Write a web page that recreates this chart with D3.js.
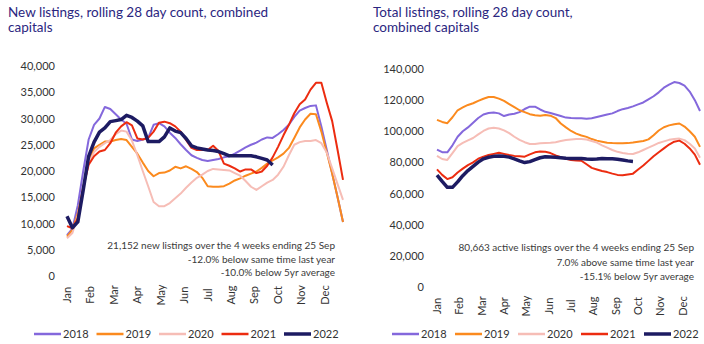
<!DOCTYPE html>
<html>
<head>
<meta charset="utf-8">
<script src="https://cdn.jsdelivr.net/npm/d3@7"></script>
<style>
  body { margin: 0; background: #fff; }
  svg { display: block; font-family: Lato, "Open Sans", sans-serif; }
</style>
</head>
<body>
<div id="chart"></div>
<script>
// month tick labels and series years
const months = ["Jan","Feb","Mar","Apr","May","Jun","Jul","Aug","Sep","Oct","Nov","Dec"];
const years = ["2018","2019","2020","2021","2022"];
const colors = ["#8468dc", "#fb8a1e", "#f6bdb6", "#ec2c10", "#1d1b62"];

// weekly rolling 28 day counts, new listings (week 0 = start of Jan)
const new2018 = [7800,9000,13500,20000,26000,28800,30000,32200,31800,30800,29800,29000,26000,25700,26000,26300,28800,29100,28500,27300,26300,25100,24000,23000,22500,22100,21900,22100,22300,22600,22800,23300,23900,24500,25000,25400,26000,26400,26300,27000,27800,28800,30300,31500,32000,32400,32500,28500,24000,19500,15000,10300];
const new2019 = [7500,8800,12000,16500,22000,24300,25000,25600,25600,25900,26100,25900,24600,23300,21600,20000,19000,19600,19700,20100,20800,20500,20900,20400,19800,18700,17100,17000,17000,17100,17600,18200,18600,19100,19500,19900,20600,21400,22000,22600,23300,24400,26300,28300,29800,30900,30800,27500,23500,19500,15000,10300];
const new2020 = [7200,8200,11500,16500,21500,23600,24600,25300,25900,27000,27700,27500,25800,23000,20000,17100,14100,13300,13300,13900,14800,15700,16800,17800,18700,19300,20000,20400,20300,20200,20100,19600,19100,18100,17000,16400,17100,17800,18300,19300,20800,23000,25000,25500,25700,25700,25900,25300,23500,20500,17500,14500];
const new2021 = [9500,9100,11000,17000,21200,22800,23700,24000,25300,27300,28500,29300,28700,26200,26000,26300,27500,29200,29400,29100,28500,27500,25900,24400,24000,24000,24000,24800,23800,21400,21000,20500,19900,20300,20300,19600,19900,21000,22600,24600,26800,28800,31000,32700,33600,35500,36800,36800,33000,29500,24000,18300];
const new2022 = [11400,9200,10300,16400,22800,25500,27400,28200,29400,29600,29800,30600,30200,29500,28600,25600,25600,25600,26500,28200,27600,27300,26200,24800,24400,24200,24000,23900,23700,23300,22900,22900,22900,22900,22900,22700,22400,22100,21152];

// weekly rolling 28 day counts, total listings
const total2018 = [88200,86600,86500,91000,96500,100000,102500,105500,108500,110800,111700,112000,111500,109800,110800,111300,112300,114300,115800,115800,114000,112500,111700,110800,109800,108800,108500,108400,108300,108000,108400,109200,110000,110800,111500,113000,114200,115000,116000,117300,118500,120500,122500,125000,128000,130000,131600,131000,129300,125500,120000,113000];
const total2019 = [107300,106000,105200,109000,113500,115300,116900,118000,119500,120900,122000,122000,121000,119500,117500,115500,113500,112300,111000,110300,110000,110500,110000,108500,105000,102500,100200,98500,97300,96400,95000,94000,93300,92600,92400,92300,92300,92400,92800,93300,93800,94800,97500,100500,102600,103800,104500,105000,103000,100000,96500,90000];
const total2020 = [84200,82200,81600,86000,90500,92500,94200,95700,98000,100200,101800,102300,101800,100600,98800,96500,94500,93000,91800,91800,92300,92500,92700,93000,93800,94400,94800,95000,95000,94700,93800,92700,91000,89500,88000,86800,86000,85600,85400,86500,88000,89500,91000,92500,93500,94500,95000,95300,94300,92000,89000,83000];
const total2021 = [75500,72000,69300,70500,73500,76000,78300,80000,82400,83700,84800,85500,86200,85500,84800,84200,84000,83700,85200,86500,87000,86800,86000,84500,83300,82300,81600,81300,81100,78800,76500,75500,74500,73800,72800,72000,71800,72300,72800,75500,78000,81000,84000,86500,89000,91500,93300,94000,92000,89000,85000,78500];
const total2022 = [71900,67800,64000,64000,67500,71500,74800,77500,80200,82300,83300,83900,84100,83900,83400,82300,81000,79900,80500,81800,83000,83700,83500,83300,83000,82700,82600,82600,82500,82200,82000,82200,82500,82400,82300,82000,81500,81000,80663];

const newTicks = [0,5000,10000,15000,20000,25000,30000,35000,40000];
const totalTicks = [0,20000,40000,60000,80000,100000,120000,140000];

const newNotes = ["21,152 new listings over the 4 weeks  ending 25 Sep",
                  "-12.0% below same time last year",
                  "-10.0% below 5yr average"];
const totalNotes = ["80,663 active listings over the 4 weeks  ending 25 Sep",
                    "7.0% above same time last year",
                    "-15.1% below 5yr average"];

const svg = d3.select("#chart").append("svg")
    .attr("width", 704)
    .attr("height", 344);

function drawChart(opt) {
    const g = svg.append("g");

    // title, two lines
    g.selectAll("titleLines")
        .data(opt.title)
        .enter()
        .append("text")
        .attr("x", opt.titleX)
        .attr("y", (d, i) => 16.5 + i * 15.5)
        .attr("fill", "#2b2680")
        .style("font-size", "13.5px")
        .text(d => d);

    const x = d3.scaleLinear().domain([0, 51]).range(opt.xRange);
    const y = d3.scaleLinear().domain([0, opt.yMax]).range(opt.yRange);

    // y axis, labels only
    const yAxis = g.append("g")
        .attr("transform", "translate(" + opt.yLabelX + ",0)")
        .call(d3.axisLeft(y).tickValues(opt.ticks).tickSize(0).tickPadding(0).tickFormat(d3.format(",")));
    yAxis.select(".domain").remove();
    yAxis.selectAll("text")
        .attr("fill", "#333")
        .style("font-size", "11px")
        .style("font-family", "Lato, sans-serif");

    // month labels, rotated
    g.selectAll("monthLabels")
        .data(months)
        .enter()
        .append("text")
        .attr("transform", (d, i) => "translate(" + x(i * 52 / 12) + "," + opt.monthY + ") rotate(-90)")
        .attr("text-anchor", "middle")
        .attr("dy", "0.35em")
        .attr("fill", "#333")
        .style("font-size", "11px")
        .text(d => d);

    const line = d3.line()
        .x((d, i) => x(i))
        .y(d => y(d));

    g.selectAll("series")
        .data(opt.series)
        .enter()
        .append("path")
        .attr("d", d => line(d))
        .attr("fill", "none")
        .attr("stroke", (d, i) => colors[i])
        .attr("stroke-width", (d, i) => i == 4 ? 3.5 : 2)
        .attr("stroke-linejoin", "round");

    // notes
    g.selectAll("notes")
        .data(opt.notes)
        .enter()
        .append("text")
        .attr("x", opt.noteX)
        .attr("y", (d, i) => opt.noteY + i * opt.noteStep)
        .attr("text-anchor", "end")
        .attr("fill", "#3a3a3a")
        .style("font-size", "10px")
        .text(d => d);

    // legend
    const leg = g.selectAll("legend")
        .data(years)
        .enter()
        .append("g")
        .attr("transform", (d, i) => "translate(" + (opt.legendX + i * opt.legendStep) + ",334)");
    leg.append("line")
        .attr("x1", -28).attr("x2", -1)
        .attr("y1", 0).attr("y2", 0)
        .attr("stroke", (d, i) => colors[i])
        .attr("stroke-width", (d, i) => i == 4 ? 3.5 : 2.5);
    leg.append("text")
        .attr("x", 1)
        .attr("dy", "0.35em")
        .attr("fill", "#333")
        .style("font-size", "11px")
        .text(d => d);
}

drawChart({
    title: ["New listings, rolling 28 day count, combined", "capitals"],
    titleX: 8,
    xRange: [67, 343],
    yRange: [276, 66],
    yMax: 40000,
    ticks: newTicks,
    yLabelX: 55,
    monthY: 295,
    series: [new2018, new2019, new2020, new2021, new2022],
    notes: newNotes,
    noteX: 335,
    noteY: 249,
    noteStep: 13.5,
    legendX: 62,
    legendStep: 62.5
});

drawChart({
    title: ["Total listings, rolling 28 day count,", "combined  capitals"],
    titleX: 373,
    xRange: [437, 700],
    yRange: [287, 69],
    yMax: 140000,
    ticks: totalTicks,
    yLabelX: 424,
    monthY: 306,
    series: [total2018, total2019, total2020, total2021, total2022],
    notes: totalNotes,
    noteX: 694,
    noteY: 251,
    noteStep: 14.5,
    legendX: 420,
    legendStep: 63
});
</script>
</body>
</html>
